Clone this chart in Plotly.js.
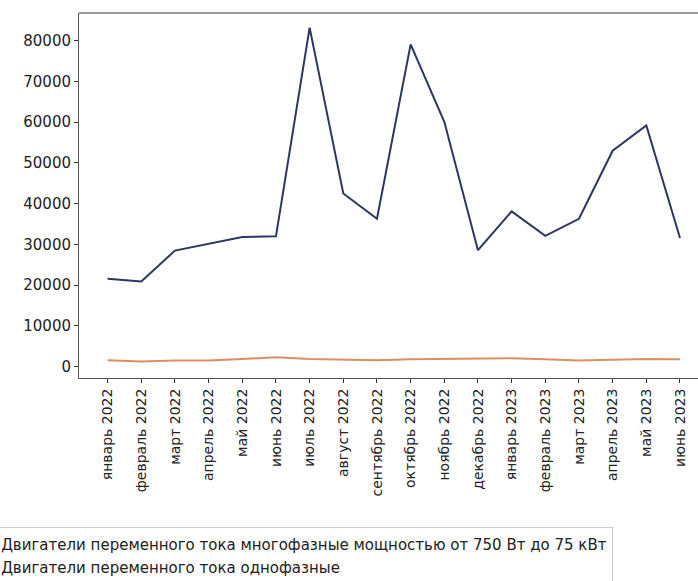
<!DOCTYPE html>
<html>
<head>
<meta charset="utf-8">
<script src="https://cdn.plot.ly/plotly-3.0.1.min.js"></script>
<style>
html,body{margin:0;padding:0;background:#fff;overflow:hidden;}
#chart{width:698px;height:581px;}
</style>
</head>
<body>
<div id="chart"></div>
<script>
var months = ["январь 2022","февраль 2022","март 2022","апрель 2022","май 2022","июнь 2022",
  "июль 2022","август 2022","сентябрь 2022","октябрь 2022","ноябрь 2022","декабрь 2022",
  "январь 2023","февраль 2023","март 2023","апрель 2023","май 2023","июнь 2023"];
var seriesNames = ["Двигатели переменного тока многофазные мощностью от 750 Вт до 75 кВт",
  "Двигатели переменного тока однофазные"];
var multiphase = [21600, 20900, 28500, 30200, 31800, 32000, 83200, 42500, 36300, 79100,
  60100, 28600, 38100, 32100, 36300, 53000, 59200, 31600];
var singlephase = [1600, 1300, 1500, 1500, 1900, 2300, 1900, 1800, 1600, 1800,
  1900, 2100, 2100, 1800, 1500, 1700, 1900, 1800];
var yTicks = [0, 10000, 20000, 30000, 40000, 50000, 60000, 70000, 80000];

var idx = months.map(function(_, i){ return i; });

var traces = [
  {x: idx, y: multiphase, type: 'scatter', mode: 'lines', name: seriesNames[0],
   line: {color: '#2c3760', width: 2}},
  {x: idx, y: singlephase, type: 'scatter', mode: 'lines', name: seriesNames[1],
   line: {color: '#dc8f64', width: 2}}
];

var layout = {
  width: 698, height: 581,
  margin: {l: 79, r: 0, t: 13, b: 203, autoexpand: false},
  paper_bgcolor: '#ffffff', plot_bgcolor: '#ffffff',
  font: {family: 'DejaVu Sans', color: '#222'},
  showlegend: true,
  legend: {x: -0.192, xanchor: 'left', y: -0.408, yanchor: 'top',
    bordercolor: '#cccccc', borderwidth: 1, bgcolor: '#ffffff',
    font: {family: 'DejaVu Sans', size: 15, color: '#222'}, tracegroupgap: 0},
  xaxis: {
    range: [-0.85, 17.535], tickmode: 'array', tickvals: idx, ticktext: months,
    tickangle: -90, ticks: 'outside', ticklen: 4, tickcolor: '#333',
    showgrid: false, zeroline: false, showline: true, linecolor: '#555', linewidth: 1,
    mirror: false, tickfont: {family: 'DejaVu Sans', size: 14, color: '#222'}
  },
  yaxis: {
    range: [-2773, 86798], tickmode: 'array', tickvals: yTicks, tickformat: 'd',
    ticks: 'outside', ticklen: 4, tickcolor: '#333',
    showgrid: false, zeroline: false, showline: true, linecolor: '#555', linewidth: 1,
    tickfont: {family: 'DejaVu Sans', size: 15, color: '#222'}
  },
  shapes: [{type: 'line', xref: 'paper', yref: 'paper', x0: 0, x1: 1, y0: 1, y1: 1,
    line: {color: '#9a9a9a', width: 2}}]
};

Plotly.newPlot('chart', traces, layout, {displayModeBar: false, staticPlot: true});
</script>
</body>
</html>
